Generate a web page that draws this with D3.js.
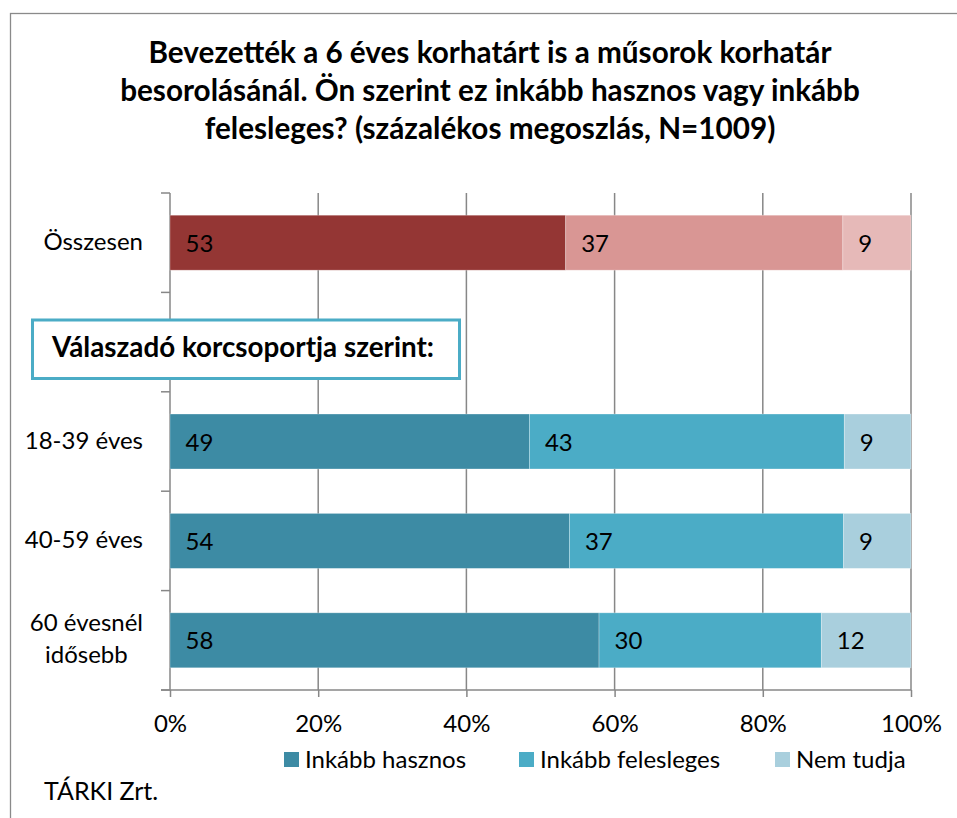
<!DOCTYPE html>
<html><head><meta charset="utf-8">
<script src="https://cdn.jsdelivr.net/npm/d3@7"></script>
<style>
body{margin:0;background:#fff}
text{font-family:Lato,"Open Sans",sans-serif;fill:#000}
</style>
</head><body>
<svg id="c" width="957" height="818"></svg>
<script>
// ---- data ----
const titleLines = [
  "Bevezették a 6 éves korhatárt is a műsorok korhatár",
  "besorolásánál. Ön szerint ez inkább hasznos vagy inkább",
  "felesleges? (százalékos megoszlás, N=1009)"
];
const categories = ["Összesen", "", "18-39 éves", "40-59 éves", "60 évesnél\nidősebb"];
const seriesNames = ["Inkább hasznos", "Inkább felesleges", "Nem tudja"];
const hasznos    = [53.4, null, 48.5, 53.9, 57.9];
const felesleges = [37.4, null, 42.5, 37.0, 30.0];
const nemTudja   = [9.2,  null, 9.0,  9.1,  12.1];
const xTicks = [0, 20, 40, 60, 80, 100];
const groupLabel = "Válaszadó korcsoportja szerint:";
const sourceText = "TÁRKI Zrt.";
const totalColors = ["#943634", "#D99694", "#E6B9B8"];
const groupColors = ["#3D8BA4", "#4BACC6", "#A9CFDD"];

// ---- chart ----
const svg = d3.select("#c");
const W = 957, H = 818;
const plot = {left: 170, right: 911, top: 193, bottom: 690};
const FS = 24;

svg.append("rect").attr("width", W).attr("height", H).attr("fill", "#fff");
// outer chart frame
svg.append("rect").attr("x", 10.5).attr("y", 13.5).attr("width", 980).attr("height", 900)
  .attr("fill", "none").attr("stroke", "#8a8a8a").attr("stroke-width", 1.3);

// title
svg.append("g").selectAll("text").data(titleLines).join("text")
  .attr("x", 490).attr("y", (d, i) => 63 + i * 38.2)
  .attr("text-anchor", "middle").attr("font-weight", "bold").attr("font-size", 29.7)
  .text(d => d);

const x = d3.scaleLinear().domain([0, 100]).range([plot.left, plot.right]);
const y = d3.scaleBand().domain(d3.range(categories.length))
  .range([plot.top, plot.bottom]).paddingInner(0.447).paddingOuter(0.2235);
const step = y.step();

// gridlines
svg.append("g").selectAll("line").data(xTicks.filter(t => t > 0)).join("line")
  .attr("x1", d => x(d)).attr("x2", d => x(d))
  .attr("y1", plot.top).attr("y2", plot.bottom)
  .attr("stroke", "#878787").attr("stroke-width", 1.5);

// x axis
const xAxis = svg.append("g").attr("transform", `translate(0,${plot.bottom})`)
  .call(d3.axisBottom(x).tickValues(xTicks).tickFormat(d => d + "%").tickSize(7).tickSizeOuter(0));
xAxis.select(".domain").attr("stroke", "#878787").attr("stroke-width", 1.5).attr("d", `M${plot.left - 9},0H${plot.right}`);
xAxis.selectAll(".tick line").attr("stroke", "#878787").attr("stroke-width", 1.5);
xAxis.selectAll(".tick text").attr("font-size", FS).attr("font-family", "Lato").attr("fill", "#000")
  .attr("y", 42).attr("dy", 0);

// y axis line and ticks (between categories)
const yAx = svg.append("g");
yAx.append("line").attr("x1", plot.left).attr("x2", plot.left)
  .attr("y1", plot.top).attr("y2", plot.bottom).attr("stroke", "#878787").attr("stroke-width", 1.5);
const boundaries = d3.range(categories.length + 1).map(i => i < categories.length ? y(i) - y.paddingOuter() * step : plot.bottom);
yAx.selectAll("line.t").data(boundaries).join("line").attr("class", "t")
  .attr("x1", plot.left - 9).attr("x2", plot.left)
  .attr("y1", d => d).attr("y2", d => d)
  .attr("stroke", "#878787").attr("stroke-width", 1.5);

// category labels (multi-line centred in block, block right aligned)
const catG = svg.append("g");
categories.forEach((c, i) => {
  if (!c) return;
  const lines = c.split("\n");
  const cy = y(i) + y.bandwidth() / 2;
  const g = catG.append("g");
  const texts = g.selectAll("text").data(lines).join("text")
    .attr("font-size", FS)
    .attr("y", (d, j) => cy + 7.5 + (j - (lines.length - 1) / 2) * 32.6 - (lines.length > 1 ? 1 : 0))
    .text(d => d);
  const maxW = d3.max(texts.nodes(), n => n.getComputedTextLength());
  const centre = 143 - maxW / 2;
  texts.attr("x", centre).attr("text-anchor", "middle");
});

// stacked bars
const rows = categories.map((c, i) => ({i, a: hasznos[i], b: felesleges[i], c: nemTudja[i]}))
  .filter(r => r.a != null);
const stack = d3.stack().keys(["a", "b", "c"])(rows);
const bars = svg.append("g");
stack.forEach((layer, k) => {
  layer.forEach(seg => {
    const r = seg.data;
    const col = r.i === 0 ? totalColors[k] : groupColors[k];
    bars.append("rect")
      .attr("x", x(seg[0])).attr("width", x(seg[1]) - x(seg[0]))
      .attr("y", y(r.i)).attr("height", y.bandwidth())
      .attr("fill", col).attr("stroke", "rgba(255,255,255,0.35)").attr("stroke-width", 0.8);
    bars.append("text")
      .attr("x", x(seg[0]) + 15.5).attr("y", y(r.i) + y.bandwidth() / 2 + 9)
      .attr("font-size", FS)
      .text(Math.round(seg[1] - seg[0]));
  });
});

// group label box
const box = svg.append("g");
box.append("rect").attr("x", 32.5).attr("y", 320).attr("width", 427).attr("height", 58.5)
  .attr("fill", "#fff").attr("stroke", "#4BACC6").attr("stroke-width", 3);
box.append("text").attr("x", 52).attr("y", 357).attr("font-weight", "bold").attr("font-size", 27.8)
  .text(groupLabel);

// legend
const legendX = [284, 519, 775];
const lg = svg.append("g");
seriesNames.forEach((s, k) => {
  lg.append("rect").attr("x", legendX[k]).attr("y", 752).attr("width", 15).attr("height", 15).attr("fill", groupColors[k]);
  lg.append("text").attr("x", legendX[k] + 21).attr("y", 768).attr("font-size", FS).text(s);
});

// source
svg.append("text").attr("x", 44).attr("y", 800).attr("font-size", 25).text(sourceText);
</script>
</body></html>
